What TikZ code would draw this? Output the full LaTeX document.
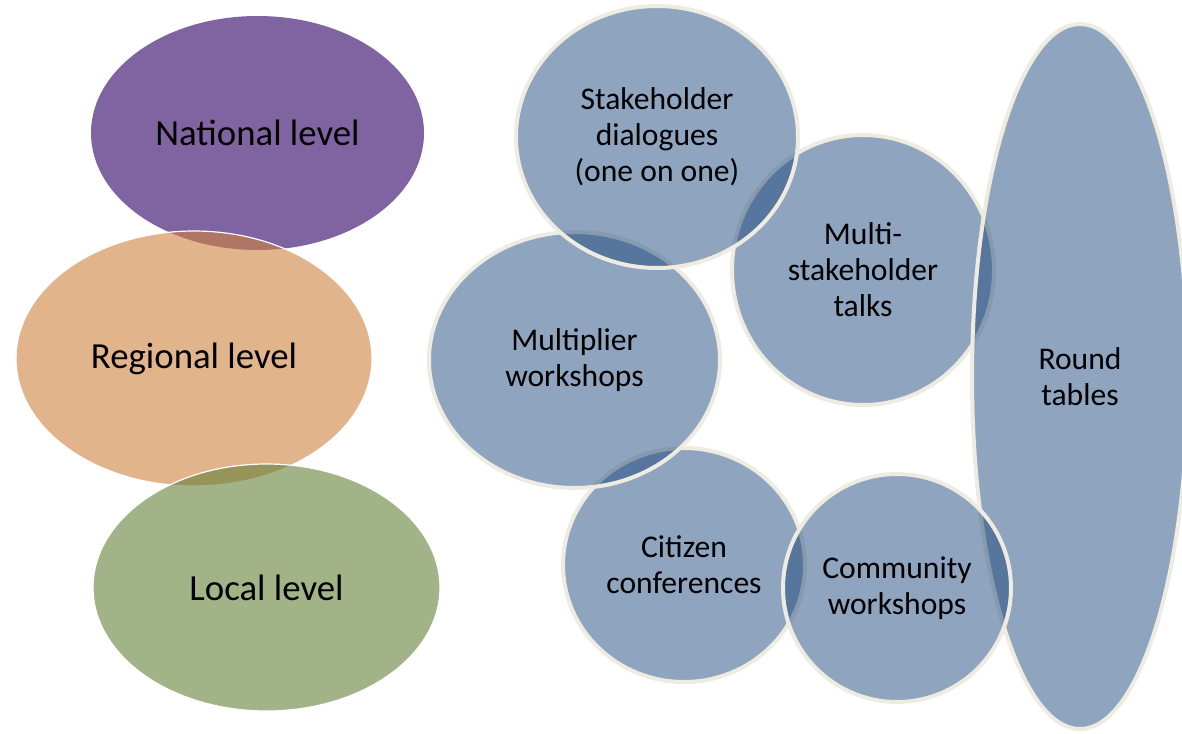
\documentclass[tikz,border=0pt]{standalone}
\usepackage{fontspec}
\setmainfont{Carlito}
\usetikzlibrary{shapes.geometric}
\definecolor{nationalpurple}{RGB}{128,100,162}
\definecolor{regionalorange}{RGB}{207,130,63}
\definecolor{localgreen}{RGB}{102,128,57}
\definecolor{formatblue}{RGB}{31,73,125}
\definecolor{formatrim}{RGB}{238,236,225}
\begin{document}
\begin{tikzpicture}[x = 0.5pt, y = -0.5pt,
    level/.style = {ellipse, inner sep = 0pt, outer sep = 0pt, text opacity = 1,
                    font = \fontsize{18.4}{22}\selectfont},
    format/.style = {ellipse, inner sep = 0pt, outer sep = 0pt, align = center,
                     fill = formatblue, fill opacity = 0.5, text opacity = 1,
                     draw = formatrim, line width = 2pt,
                     font = \fontsize{15.8}{18}\selectfont}]
    \useasboundingbox (0, 0) rectangle (1182, 733);

    % levels
    \node[level, fill = nationalpurple, minimum width = 166.5pt, minimum height = 117pt]
        (national) at (257.5, 133) {National level};
    \node[level, fill = regionalorange, fill opacity = 0.6, draw = white, line width = 0.6pt,
          minimum width = 178pt, minimum height = 127.5pt]
        (regional) at (194, 358.5) {Regional level};
    \node[level, fill = localgreen, fill opacity = 0.6, draw = white, line width = 0.6pt,
          minimum width = 173.5pt, minimum height = 123.5pt]
        (local) at (266.5, 587.5) {Local level};

    % formats
    \node[format, minimum width = 121pt, minimum height = 117pt]
        (citizen) at (684, 565) {Citizen\\conferences};
    \node[format, minimum width = 145.5pt, minimum height = 128pt]
        (multiplier) at (574.5, 360) {Multiplier\\workshops};
    \node[format, minimum width = 131pt, minimum height = 135pt]
        (multi) at (863, 270) {Multi-\\stakeholder\\talks};
    \node[format, minimum width = 108pt, minimum height = 352.5pt]
        (round) at (1080, 376.5) {Round\\tables};
    \node[format, minimum width = 114pt, minimum height = 114pt]
        (community) at (897, 588) {Community\\workshops};
    \node[format, minimum width = 141pt, minimum height = 131pt]
        (dialogues) at (657, 137) {Stakeholder\\dialogues\\(one on one)};
\end{tikzpicture}
\end{document}
